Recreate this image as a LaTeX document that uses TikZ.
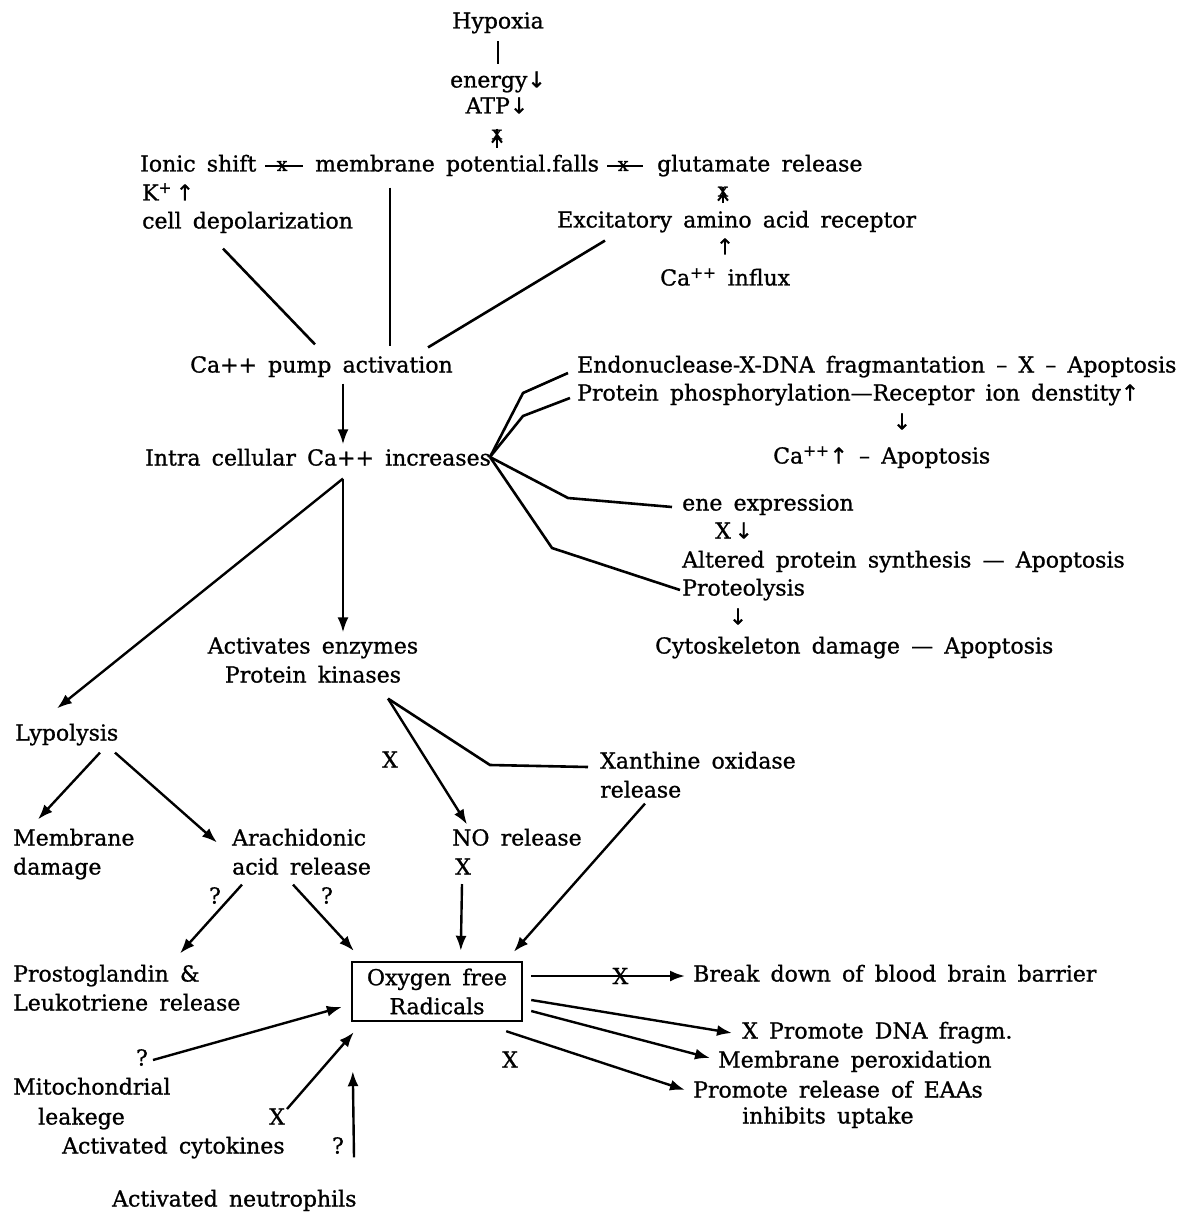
\documentclass[tikz,border=0pt]{standalone}
\usepackage{fontspec}
\setmainfont{DejaVu Serif}[FakeBold=1, WordSpace=1.6]
\newfontfamily\arrfont{DejaVu Sans}[FakeBold=0.6]
\usetikzlibrary{arrows.meta}
\newcommand{\dar}{{\arrfont ↓}}
\newcommand{\uar}{{\arrfont ↑}}
\begin{document}
\begin{tikzpicture}[x=1pt,y=-1pt,
  every node/.style={inner sep=0pt, font=\fontsize{22}{29}\selectfont},
  lbl/.style={anchor=west, text height=15.4pt, text depth=4.4pt},
  ctr/.style={anchor=center, text height=15.4pt, text depth=4.4pt},
  ln/.style={line width=2.6pt},
  thin/.style={line width=2pt},
  arr/.style={line width=2.4pt, -{Latex[length=15pt,width=11pt]}},
  smallx/.style={font=\fontsize{19}{19}\selectfont, inner sep=0pt},
]
\fill[white] (0,0) rectangle (1197,1214);
\useasboundingbox (0,0) rectangle (1197,1214);

% ---------- top ----------
\node[ctr] (hyp) at (498,23) {Hypoxia};
\node[ctr] (energy) at (498,82) {energy\dar};
\node[ctr] (atp) at (497,108) {ATP\dar};
\node[lbl] (ionic) at (140,166) {Ionic shift};
\node[lbl] (memb) at (315,166) {membrane potential.falls};
\node[lbl] (glut) at (657,166) {glutamate release};
\node[lbl] (kplus) at (142,195) {K\textsuperscript{+}\,\uar};
\node[lbl] (celldep) at (142,223) {cell depolarization};
\node[lbl] (exc) at (557,222) {Excitatory amino acid receptor};
\node[ctr] (uparr) at (725,249) {\uar};
\node[lbl] (cainf) at (660,280) {Ca\textsuperscript{++} influx};
\node[lbl] (pump) at (190,367) {Ca++ pump activation};
\node[lbl] (intra) at (145,460) {Intra cellular Ca++ increases};

% ---------- right fan ----------
\node[lbl] (endo) at (577,367) {Endonuclease-X-DNA fragmantation – X – Apoptosis};
\node[lbl] (prot) at (577,395) {Protein phosphorylation—Receptor ion denstity\uar};
\node[ctr] (darr1) at (902,424) {\dar};
\node[lbl] (ca2) at (773,458) {Ca\textsuperscript{++}\uar{} – Apoptosis};
\node[lbl] (ene) at (682,505) {ene expression};
\node[lbl] (xdown) at (715,533) {X\,\dar};
\node[lbl] (alt) at (682,562) {Altered protein synthesis — Apoptosis};
\node[lbl] (proteo) at (682,590) {Proteolysis};
\node[ctr] (darr2) at (738,619) {\dar};
\node[lbl] (cyto) at (655,648) {Cytoskeleton damage — Apoptosis};

% ---------- middle ----------
\node[ctr] (act) at (313,648) {Activates enzymes};
\node[ctr] (pk) at (313,677) {Protein kinases};
\node[lbl] (lyp) at (15,735) {Lypolysis};
\node[ctr] (xm1) at (390,762) {X};
\node[lbl] (xan) at (600,763) {Xanthine oxidase};
\node[lbl] (xanrel) at (600,792) {release};
\node[lbl] (memdam) at (13,840) {Membrane};
\node[lbl] (memdam2) at (13,869) {damage};
\node[lbl] (arach) at (232,840) {Arachidonic};
\node[lbl] (acid) at (232,869) {acid release};
\node[lbl] (no) at (452,840) {NO release};
\node[lbl] (nox) at (455,869) {X};
\node[ctr] (q1) at (215,898) {?};
\node[ctr] (q2) at (327,898) {?};

% ---------- bottom ----------
\node[draw, line width=2.4pt, minimum width=170pt, minimum height=59pt, align=center] (box) at (437,991.5) {Oxygen free\\Radicals};
\node[lbl] (prost) at (13,976) {Prostoglandin \&};
\node[lbl] (leuk) at (13,1005) {Leukotriene release};
\node[ctr] (q3) at (142,1060) {?};
\node[lbl] (mito) at (13,1089) {Mitochondrial};
\node[lbl] (leak) at (38,1119) {leakege};
\node[ctr] (x2) at (277,1119) {X};
\node[lbl] (cyt) at (62,1148) {Activated cytokines};
\node[ctr] (q4) at (338,1148) {?};
\node[lbl] (neut) at (112,1201) {Activated neutrophils};
\node[lbl] (bbb) at (693,976) {Break down of blood brain barrier};
\node[lbl] (dna) at (742,1033) {X Promote DNA fragm.};
\node[lbl] (perox) at (718,1062) {Membrane peroxidation};
\node[lbl] (eaa) at (693,1092) {Promote release of EAAs};
\node[lbl] (upt) at (742,1118) {inhibits uptake};
\node[ctr] (x3) at (510,1062) {X};

% ---------- connectors: top ----------
\draw[ln] ([shift={(0,8)}]hyp.south) -- ([shift={(0,-8)}]energy.north);
\draw[thin] ([shift={(0,10.5)}]atp.south) -- node[smallx, pos=.3]{x} ([shift={(182,-7.5)}]memb.north west);
\draw[thin] ([shift={(0,10.5)}]atp.south) ++(-5,14) -- ++(5,-6) -- ++(5,6);
\draw[thin] ([shift={(125,0)}]ionic.west) -- node[smallx, pos=.45]{x} ([shift={(-12,0)}]memb.west);
\draw[thin] ([shift={(292,0)}]memb.west) -- node[smallx, pos=.45]{x} ([shift={(-14,0)}]glut.west);
\draw[thin] ([shift={(66,10.5)}]glut.south west) -- node[smallx, pos=.3]{x} ([shift={(166,-8.5)}]exc.north west);
\draw[thin] ([shift={(66,10.5)}]glut.south west) ++(-5,14) -- ++(5,-6) -- ++(5,6);

\draw[ln] ([shift={(81,15.5)}]celldep.south west) -- ([shift={(125,-12.5)}]pump.north west);
\draw[ln] ([shift={(75,11.5)}]memb.south west) -- ([shift={(200,-10.5)}]pump.north west);
\draw[ln] ([shift={(48,8.5)}]exc.south west) -- ([shift={(238,-9.5)}]pump.north west);
\draw[arr] ([shift={(153,6.5)}]pump.south west) -- ([shift={(198,-5.5)}]intra.north west);

% ---------- fan ----------
\draw[ln] ([shift={(345,-3)}]intra.west) -- (523,393) -- ([shift={(-9,6)}]endo.west);
\draw[ln] ([shift={(345,-3)}]intra.west) -- (523,416) -- ([shift={(-7,3)}]prot.west);
\draw[ln] ([shift={(345,-3)}]intra.west) -- (568,498) -- ([shift={(-10,2)}]ene.west);
\draw[ln] ([shift={(345,-3)}]intra.west) -- (552,548) -- ([shift={(-2,0)}]proteo.west);

% ---------- middle connectors ----------
\draw[arr] ([shift={(198,8.5)}]intra.south west) -- ([shift={(30,-5.5)}]act.north);
\draw[arr] ([shift={(198,8.5)}]intra.south west) -- ([shift={(42,-16.5)}]lyp.north west);
\draw[arr] ([shift={(85,7.5)}]lyp.south west) -- ([shift={(25,-10.5)}]memdam.north west);
\draw[arr] ([shift={(100,7.5)}]lyp.south west) -- ([shift={(-15,2.5)}]arach.west);
\draw[arr] ([shift={(75,11.5)}]pk.south) -- ([shift={(15,-5.5)}]no.north west);
\draw[ln] ([shift={(75,11.5)}]pk.south) -- (490,765) -- ([shift={(-12,4)}]xan.west);
\draw[arr] ([shift={(10,5.5)}]acid.south west) -- ([shift={(167,-12.5)}]prost.north west);
\draw[arr] ([shift={(61,5.5)}]acid.south west) -- ([shift={(3,-10)}]box.north west);
\draw[arr] ([shift={(7,15)}]nox.west) -- ([shift={(110,-10)}]box.north west);
\draw[arr] ([shift={(45,1.5)}]xanrel.south west) -- ([shift={(163,-9)}]box.north west);

% ---------- bottom connectors ----------
\draw[arr] ([shift={(11,0)}]q3.center) -- ([shift={(-9,15.5)}]box.west);
\draw[arr] ([shift={(10,-10)}]x2.center) -- ([shift={(3,10)}]box.south west);
\draw[arr] ([shift={(242,-33.5)}]neut.north west) -- ([shift={(2,49)}]box.south west);
\draw[arr] ([shift={(8,-15.5)}]box.east) -- node[pos=.58]{X} ([shift={(-8,0)}]bbb.west);
\draw[arr] ([shift={(8,8.5)}]box.east) -- ([shift={(-10,0)}]dna.west);
\draw[arr] ([shift={(8,19.5)}]box.east) -- ([shift={(-8,-4)}]perox.west);
\draw[arr] ([shift={(-17,9)}]box.south east) -- ([shift={(-8,-2)}]eaa.west);
\end{tikzpicture}
\end{document}
